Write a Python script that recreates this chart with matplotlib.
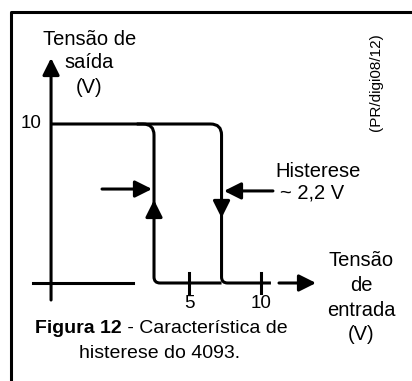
import matplotlib
matplotlib.use('Agg')
import matplotlib.pyplot as plt
from matplotlib.path import Path
from matplotlib.patches import PathPatch

# data (volts)
vdd = 10.0            # high output level
v_low = 0.0           # low output level
v_up = 2.57           # threshold of the rising branch
v_down = 7.26         # threshold of the falling branch
x_ticks = [5, 10]
x_tick_labels = ['5', '10']
y_ticks = [10]
y_tick_labels = ['10']
hyst_label = '~ 2,2 V'

# layout: pixels per volt, origin in pixels
W, H = 412, 381
sx, sy = 14.4, 15.9
ox, oy = 117, 283

fig = plt.figure(figsize=(W / 100, H / 100), dpi=100)
ax = fig.add_axes([0, 0, 1, 1])
ax.set_xlim(-ox / sx, (W - ox) / sx)
ax.set_ylim(-(H - oy) / sy, oy / sy)
ax.axis('off')

plt.rcParams['font.family'] = ['Liberation Sans', 'DejaVu Sans']
fs = 14.5      # labels
fs_tick = 13.5
fs_cap = 14
lw = 2.2
k = 'black'
dy = -0.12     # text box centre vs ink centre

# frame (only left and top edges visible)
ax.plot([11 / W, 11 / W, 1.0], [0.0, 1 - 12 / H, 1 - 12 / H], transform=ax.transAxes,
        color=k, lw=lw, solid_capstyle='projecting')

# axes
y_axis_x = -4.58
ax.plot([-5.83, 1.11], [v_low, v_low], color=k, lw=lw)
arrow = dict(arrowstyle='-|>,head_length=0.6,head_width=0.3', mutation_scale=17,
             lw=lw, color=k, shrinkA=0, shrinkB=0)
ax.annotate('', xy=(y_axis_x, 14.15), xytext=(y_axis_x, -1.07), arrowprops=arrow)
ax.annotate('', xy=(13.82, v_low), xytext=(11.25, v_low), arrowprops=arrow)


def branch(x_start, x_v, x_end, r_top=11, r_bot=6):
    rx, ry = r_top / sx, r_top / sy
    bx, by = r_bot / sx, r_bot / sy
    verts = [(x_start, vdd), (x_v - rx, vdd), (x_v, vdd), (x_v, vdd - ry),
             (x_v, v_low + by), (x_v, v_low), (x_v + bx, v_low), (x_end, v_low)]
    codes = [Path.MOVETO, Path.LINETO, Path.CURVE3, Path.CURVE3,
             Path.LINETO, Path.CURVE3, Path.CURVE3, Path.LINETO]
    return PathPatch(Path(verts, codes), fill=False, lw=lw, edgecolor=k,
                     capstyle='butt', joinstyle='round')


# falling branch (from the y axis) and rising branch
ax.add_patch(branch(y_axis_x, v_down, 10.69))
ax.add_patch(branch(v_up - 1.2, v_up, v_down))

# direction arrows on the branches
ax.annotate('', xy=(v_up, 5.22), xytext=(v_up, 4.3), arrowprops=arrow)
ax.annotate('', xy=(v_down, 4.09), xytext=(v_down, 5.0), arrowprops=arrow)

# hysteresis arrows
ax.annotate('', xy=(2.43, 5.91), xytext=(-1.04, 5.91), arrowprops=arrow)
ax.annotate('', xy=(7.43, 5.79), xytext=(10.83, 5.79), arrowprops=arrow)

# ticks
for t, lab in zip(x_ticks, x_tick_labels):
    ax.plot([t, t], [v_low - 0.6, v_low + 0.6], color=k, lw=lw)
    ax.text(t, -1.19 + dy, lab, ha='center', va='center', fontsize=fs_tick)
for t, lab in zip(y_ticks, y_tick_labels):
    ax.text(-5.97, t + 0.16 + dy, lab, ha='center', va='center', fontsize=fs_tick)

# axis titles
ax.text(-1.91, 15.41 + dy, 'Tensão de', ha='center', va='center', fontsize=fs)
ax.text(-1.91, 13.96 + dy, 'saída', ha='center', va='center', fontsize=fs)
ax.text(-1.91, 12.39 + dy, '(V)', ha='center', va='center', fontsize=fs)
for yy, s in zip([1.51, -0.06, -1.64, -3.14], ['Tensão', 'de', 'entrada', '(V)']):
    ax.text(16.94, yy + dy, s, ha='center', va='center', fontsize=fs)

ax.text(13.96, 7.11 + dy, 'Histerese', ha='center', va='center', fontsize=fs)
ax.text(13.54, 5.79 + dy, hyst_label, ha='center', va='center', fontsize=fs)

ax.text(17.99, 12.64, '(PR/digi08/12)', ha='center', va='center', fontsize=11,
        rotation=90)

# caption
ax.text(0.35, -2.77 + dy, 'Figura 12', ha='right', va='center', fontsize=fs_cap,
        fontweight='bold')
ax.text(0.35, -2.77 + dy, ' - Característica de', ha='left', va='center', fontsize=fs_cap)
ax.text(2.99, -4.34 + dy, 'histerese do 4093.', ha='center', va='center', fontsize=fs_cap)

fig.savefig('out.png', dpi=100)
